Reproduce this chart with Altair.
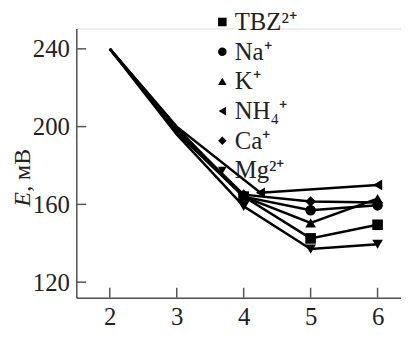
import altair as alt
import pandas as pd

ions = ["TBZ²⁺", "Na⁺", "K⁺", "NH₄⁺", "Ca⁺", "Mg²⁺"]
shapes = ["square", "circle", "triangle-up", "triangle-left", "diamond", "triangle-down"]

x_tbz = [2, 3, 4, 5, 6]
e_tbz = [240, 198, 164, 142.5, 149.5]
x_na = [2, 3, 4, 5, 6]
e_na = [240, 199.5, 164, 157, 159.5]
x_k = [2, 3, 4, 5, 6]
e_k = [240, 197, 164, 150.5, 163]
x_nh4 = [2, 3, 4.25, 6]
e_nh4 = [240, 200, 166, 170]
x_ca = [2, 3, 4, 5, 6]
e_ca = [240, 198.5, 165, 161.5, 161]
x_mg = [2, 3, 4, 5, 6]
e_mg = [240, 196, 159, 137, 139.5]

y_ticks = [120, 160, 200, 240]
x_ticks = [2, 3, 4, 5, 6]

series = [(ions[0], x_tbz, e_tbz), (ions[1], x_na, e_na), (ions[2], x_k, e_k),
          (ions[3], x_nh4, e_nh4), (ions[4], x_ca, e_ca), (ions[5], x_mg, e_mg)]
rows = []
for name, xs, es in series:
    for xv, ev in zip(xs, es):
        rows.append({"ion": name, "x": xv, "E": ev})
df = pd.DataFrame(rows)

FONT = "serif"
W, H = 328, 272
xscale = alt.Scale(domain=[1.5, 6.35], nice=False, zero=False)
yscale = alt.Scale(domain=[112, 250.5], nice=False, zero=False)

xaxis = alt.Axis(values=x_ticks, format="d", tickSize=0, labelPadding=7, labelFont=FONT,
                 labelFontSize=25, labelColor="#222", domainColor="#555", domainWidth=1.5,
                 grid=False, title=None, labelFlush=False)
yaxis = alt.Axis(values=y_ticks, format="d", tickSize=0, labelPadding=7, labelFont=FONT,
                 labelFontSize=25, labelColor="#222", domainColor="#555", domainWidth=1.5,
                 grid=False, title=None)

base = alt.Chart(df)
lines = base.mark_line(color="black", strokeWidth=2.5).encode(
    x=alt.X("x:Q", scale=xscale, axis=xaxis),
    y=alt.Y("E:Q", scale=yscale, axis=yaxis),
    detail="ion:N",
)
points = base.transform_filter("datum.x >= 4").mark_point(
    filled=True, color="black", size=115, opacity=1).encode(
    x=alt.X("x:Q", scale=xscale),
    y=alt.Y("E:Q", scale=yscale),
    shape=alt.Shape("ion:N", scale=alt.Scale(domain=ions, range=shapes),
                    legend=alt.Legend(title=None, orient="none", legendX=135, legendY=-19,
                                      labelFont=FONT, labelFontSize=25, labelColor="#222",
                                      symbolSize=75, symbolFillColor="black",
                                      symbolStrokeColor="black", symbolStrokeWidth=0,
                                      rowPadding=4, labelOffset=0, padding=0)),
)

yt = pd.DataFrame({"v": y_ticks})
xt = pd.DataFrame({"v": x_ticks})
ytick_marks = alt.Chart(yt).mark_rule(color="#555", strokeWidth=1.5).encode(
    y=alt.Y("v:Q", scale=yscale), x=alt.value(0), x2=alt.value(10))
xtick_marks = alt.Chart(xt).mark_rule(color="#555", strokeWidth=1.5).encode(
    x=alt.X("v:Q", scale=xscale), y=alt.value(H), y2=alt.value(H - 10))

# y-axis title: italic "E" followed by ", мВ", rotated
title_e = alt.Chart(pd.DataFrame({"t": ["E"]})).mark_text(
    font=FONT, fontSize=24, fontStyle="italic", angle=270, align="left",
    baseline="middle", color="#222").encode(
    text="t:N", x=alt.value(-54), y=alt.value(180))
title_rest = alt.Chart(pd.DataFrame({"t": [", мВ"]})).mark_text(
    font=FONT, fontSize=24, angle=270, align="left",
    baseline="middle", color="#222").encode(
    text="t:N", x=alt.value(-54), y=alt.value(165))

chart = alt.layer(lines, points, ytick_marks, xtick_marks, title_e, title_rest).properties(
    width=W, height=H,
    autosize=alt.AutoSizeParams(type="none"),
    padding={"left": 69, "top": 19, "right": 0, "bottom": 31},
).configure_view(stroke=None).configure(background="white")

chart.save("out.html", embed_options={"renderer": "svg", "actions": False})
